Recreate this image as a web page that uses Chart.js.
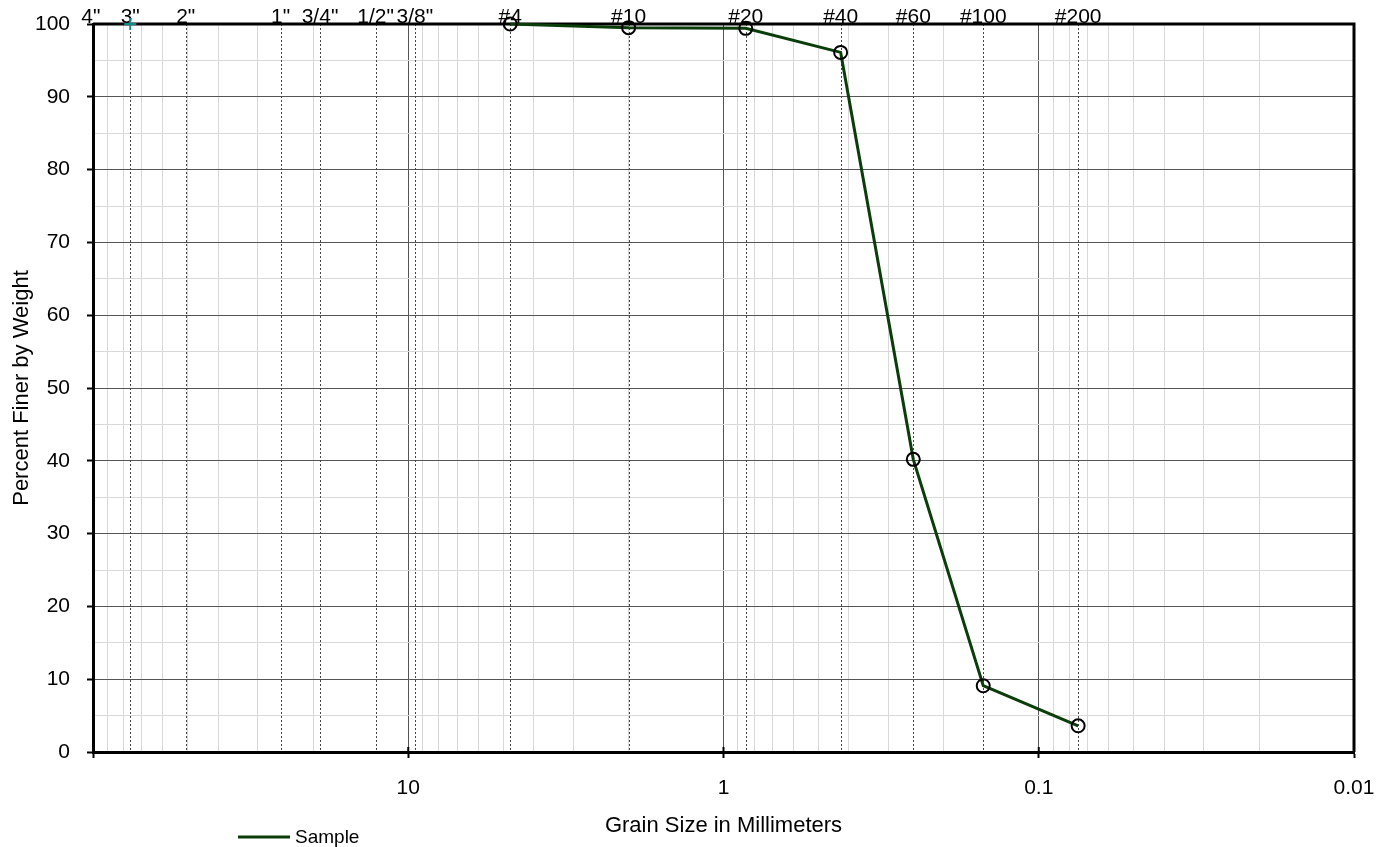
<!DOCTYPE html>
<html>
<head>
<meta charset="utf-8">
<title>Grain Size Distribution</title>
<script src="https://cdn.jsdelivr.net/npm/chart.js@4/dist/chart.umd.min.js"></script>
<style>
  html, body { margin: 0; padding: 0; background: #fff; }
  #wrap { width: 1389px; height: 847px; position: relative; }
</style>
</head>
<body>
<div id="wrap"><canvas id="gradation"></canvas></div>
<script>
// sieve openings (mm) and their names, shown as dotted lines + top labels
const sieveLabels = ['4"', '3"', '2"', '1"', '3/4"', '1/2"', '3/8"', '#4', '#10', '#20', '#40', '#60', '#100', '#200'];
const sieveSizes = [101.6, 76.2, 50.8, 25.4, 19.05, 12.7, 9.525, 4.75, 2.0, 0.85, 0.425, 0.25, 0.15, 0.075];

// sample results
const sampleSizes = [4.75, 2.0, 0.85, 0.425, 0.25, 0.15, 0.075];
const percentFiner = [100, 99.5, 99.4, 96.1, 40.2, 9.1, 3.6];

// the small cross on the 3" line
const crossSizes = [76.2];
const crossValues = [100];

// axis ticks
const decades = [100, 10, 1, 0.1, 0.01];
const decadeLabels = ['', '10', '1', '0.1', '0.01'];
const minorSteps = [2, 3, 4, 5, 6, 7, 8, 9];

const MAJOR_GRID = '#555555';
const MINOR_GRID = '#d9d9d9';
const LINE_GREEN = '#0b3d0b';
const FONT = "'Liberation Sans', Arial, sans-serif";

Chart.defaults.font.family = FONT;
Chart.defaults.color = '#000';

function buildLogTicks() {
    const ticks = [];
    decades.forEach((d, i) => {
        ticks.push({ value: d, major: true, label: decadeLabels[i] });
        if (d > 0.01) {
            minorSteps.forEach(m => {
                ticks.push({ value: parseFloat((d / 10 * m).toPrecision(6)), major: false, label: '' });
            });
        }
    });
    return ticks.sort((a, b) => a.value - b.value);
}

const sievePlugin = {
    id: 'sieves',
    beforeDatasetsDraw(chart) {
        const { ctx, chartArea: area } = chart;
        const xs = chart.scales.x;
        ctx.save();

        // dotted sieve lines
        ctx.strokeStyle = '#444';
        ctx.lineWidth = 1;
        ctx.setLineDash([2, 2]);
        sieveSizes.forEach(size => {
            const px = Math.round(xs.getPixelForValue(size)) + 0.5;
            if (px <= area.left + 1 || px >= area.right - 1) return;
            ctx.beginPath();
            ctx.moveTo(px, area.top);
            ctx.lineTo(px, area.bottom);
            ctx.stroke();
        });
        ctx.setLineDash([]);

        // top and right frame
        ctx.strokeStyle = '#000';
        ctx.lineWidth = 3;
        ctx.beginPath();
        ctx.moveTo(area.left, area.top);
        ctx.lineTo(area.right, area.top);
        ctx.lineTo(area.right, area.bottom);
        ctx.stroke();

        // decade ticks also poke inside the plot a little
        ctx.lineWidth = 2;
        decades.forEach(d => {
            const px = xs.getPixelForValue(d);
            ctx.beginPath();
            ctx.moveTo(px, area.bottom - 5);
            ctx.lineTo(px, area.bottom);
            ctx.stroke();
        });

        // sieve labels above the plot
        ctx.fillStyle = '#000';
        ctx.font = '21px ' + FONT;
        ctx.textAlign = 'center';
        ctx.textBaseline = 'alphabetic';
        sieveSizes.forEach((size, i) => {
            const px = xs.getPixelForValue(size);
            ctx.fillText(sieveLabels[i], px, area.top - 1);
        });
        ctx.restore();
    },
    afterDraw(chart) {
        // legend under the plot, left side
        const { ctx } = chart;
        const ds = chart.data.datasets[0];
        ctx.save();
        ctx.strokeStyle = ds.borderColor;
        ctx.lineWidth = 3;
        ctx.beginPath();
        ctx.moveTo(238, 837);
        ctx.lineTo(290, 837);
        ctx.stroke();
        ctx.fillStyle = '#000';
        ctx.font = '19px ' + FONT;
        ctx.textAlign = 'left';
        ctx.textBaseline = 'middle';
        ctx.fillText(ds.label, 295, 838);
        ctx.restore();
    }
};

new Chart(document.getElementById('gradation'), {
    type: 'line',
    data: {
        datasets: [{
            label: 'Sample',
            data: sampleSizes.map((s, i) => ({ x: s, y: percentFiner[i] })),
            borderColor: LINE_GREEN,
            borderWidth: 3,
            tension: 0,
            pointStyle: 'circle',
            pointRadius: 6.5,
            pointHoverRadius: 6.5,
            pointBorderColor: '#000',
            pointBorderWidth: 2,
            pointBackgroundColor: 'rgba(0,0,0,0)',
            clip: false
        }, {
            label: 'marker',
            data: crossSizes.map((s, i) => ({ x: s, y: crossValues[i] })),
            showLine: false,
            pointStyle: 'cross',
            pointRadius: 6,
            pointBorderColor: '#138a8a',
            pointBorderWidth: 2,
            clip: false
        }]
    },
    options: {
        responsive: true,
        maintainAspectRatio: false,
        animation: false,
        events: [],
        layout: { padding: { top: 24, right: 35, left: 0, bottom: 0 } },
        plugins: {
            legend: { display: false },
            tooltip: { enabled: false }
        },
        scales: {
            x: {
                type: 'logarithmic',
                position: 'bottom',
                reverse: true,
                min: 0.01,
                max: 100,
                afterBuildTicks: (scale) => { scale.ticks = buildLogTicks(); },
                afterFit: (scale) => {
                    scale.height = 95;
                    scale.paddingLeft = 0;
                    scale.paddingRight = 0;
                },
                ticks: {
                    autoSkip: false,
                    maxRotation: 0,
                    padding: 18,
                    font: { size: 21 },
                    callback: function(value, index, ticks) {
                        return ticks[index].label;
                    }
                },
                grid: {
                    color: (c) => (c.tick && c.tick.major ? MAJOR_GRID : MINOR_GRID),
                    lineWidth: 1,
                    tickLength: 6,
                    tickWidth: 2,
                    tickColor: (c) => (c.tick && c.tick.major ? '#000' : 'rgba(0,0,0,0)')
                },
                border: { display: true, color: '#000', width: 3 },
                title: {
                    display: true,
                    text: 'Grain Size in Millimeters',
                    font: { size: 22 },
                    padding: { top: 0, bottom: 8 }
                }
            },
            y: {
                min: 0,
                max: 100,
                afterFit: (scale) => {
                    scale.width = 93;
                    scale.paddingTop = 0;
                    scale.paddingBottom = 0;
                },
                ticks: {
                    stepSize: 5,
                    autoSkip: false,
                    padding: 17,
                    font: { size: 21 },
                    callback: (v) => (v % 10 === 0 ? String(v) : '')
                },
                grid: {
                    color: (c) => (c.tick && c.tick.value % 10 === 0 ? MAJOR_GRID : MINOR_GRID),
                    lineWidth: 1,
                    tickLength: 6,
                    tickWidth: 2,
                    tickColor: (c) => (c.tick && c.tick.value % 10 === 0 ? '#000' : 'rgba(0,0,0,0)')
                },
                border: { display: true, color: '#000', width: 3 },
                title: {
                    display: true,
                    text: 'Percent Finer by Weight',
                    font: { size: 22 },
                    padding: { top: 9, bottom: 0 }
                }
            }
        }
    },
    plugins: [sievePlugin]
});
</script>
</body>
</html>
